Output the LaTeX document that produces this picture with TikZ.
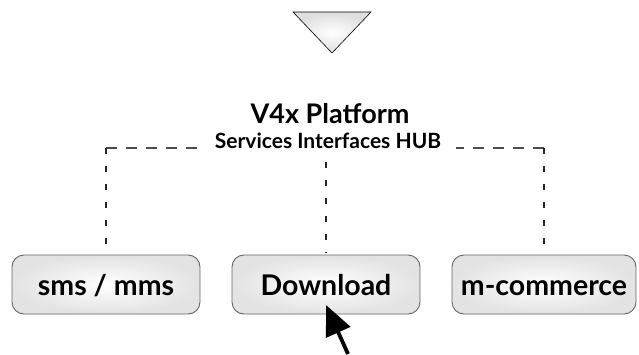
\documentclass[tikz,border=0pt]{standalone}
\usepackage{fontspec}
\setmainfont{Lato}
\usetikzlibrary{arrows.meta}

\begin{document}
\begin{tikzpicture}[x=1pt,y=-1pt,
  service/.style={draw=black!60, line width=0.9pt, rounded corners=12pt,
    shade, shading=radial, inner color=white, outer color=black!11,
    minimum width=188pt, minimum height=59pt, text height=24pt, text depth=3pt,
    font=\fontsize{28.5}{32}\selectfont\bfseries},
  hub line/.style={draw=black!70, line width=1.3pt, dash pattern=on 11pt off 9pt},
  hub drop/.style={draw=black!85, line width=1.3pt, dash pattern=on 6pt off 12pt}]
\useasboundingbox (0,0) rectangle (639,354);

% funnel
\draw[black, line width=0.6pt, shade, shading=radial, inner color=white, outer color=black!13]
  (293,12) -- (371,12) -- (332,53) -- cycle;

% platform labels
\node[anchor=base, font=\fontsize{27}{30}\selectfont\bfseries] (platform) at (330,123) {V4x Platform};
\node[anchor=base, inner xsep=15pt, font=\fontsize{21}{24}\selectfont\bfseries] (hub) at (328,148) {Services Interfaces HUB};

% services
\node[service] (sms) at (106,284.5) {sms / mms};
\node[service] (dl) at (326,284.5) {Download};
\node[service, minimum width=184pt] (mcom) at (544,284.5) {m-commerce};

% hub lines
\draw[hub line] (hub.base west -| sms.north) -- (hub.base west);
\draw[hub line] (hub.base east -| mcom.north) -- (hub.base east);
\draw[hub drop, shorten >=6pt] (hub.base west -| sms.north) -- (sms.north);
\draw[hub drop, shorten >=6pt] (hub.base east -| mcom.north) -- (mcom.north);
\draw[hub drop, shorten <=10pt, shorten >=2pt] (hub.south -| dl.north) -- (dl.north);

% pointer
\coordinate (pointer tail) at (348,354);
\coordinate (pointer tip) at (326,305);
\draw[line width=3.8pt, -{Triangle[length=30pt,width=26pt]}] (pointer tail) -- (pointer tip);

\end{tikzpicture}
\end{document}
